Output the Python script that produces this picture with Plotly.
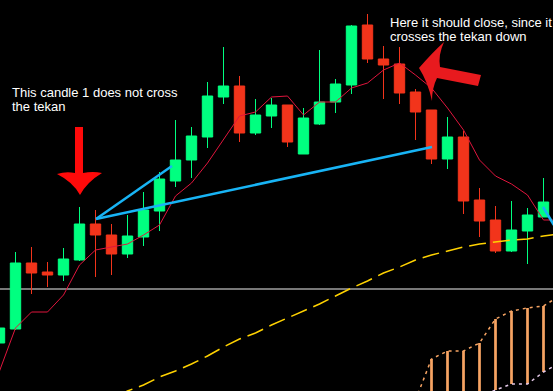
import plotly.graph_objects as go

W, H = 553, 391

# ---- data (price units, arbitrary scale) ----
idx = list(range(-1, 34))
opens = [48, 62, 128, 119, 116, 131, 167, 156, 137, 154, 180, 210, 231, 254, 294, 305, 258, 275, 286, 237,
         267, 289, 306, 366, 332, 327, 299, 281, 232, 254, 191, 171, 140, 160, 174]
highs = [66, 139, 144, 129, 143, 184, 181, 167, 176, 199, 219, 271, 264, 309, 344, 315, 292, 293, 286, 283,
         341, 312, 366, 377, 345, 344, 302, 281, 274, 260, 203, 185, 190, 183, 213]
lows = [44, 61, 97, 104, 110, 130, 114, 116, 133, 145, 160, 204, 213, 243, 287, 249, 256, 263, 244, 237,
        266, 278, 297, 328, 292, 287, 251, 227, 222, 177, 154, 138, 139, 127, 174]
closes = [63, 128, 118, 116, 132, 167, 156, 137, 155, 181, 212, 231, 255, 295, 305, 258, 276, 286, 249, 273,
          289, 307, 365, 332, 326, 298, 279, 232, 254, 190, 170, 140, 161, 176, 189]

tekan_x = list(range(-1, 35))
tekan = [20, 63, 79, 79, 96, 126, 141, 144, 147, 156, 166, 195, 208, 228, 251, 275, 279, 294, 295, 276,
         289, 289, 303, 308, 321, 328, 316, 303, 283, 261, 231, 215, 207, 196, 171, 171]

ma_x = list(range(5, 35))
ma = [-16, -8, 0, 6, 14, 20, 27, 35, 44, 52, 58, 66, 73, 80, 87, 95, 103, 110, 118, 124,
      131, 136, 140, 144, 147, 149, 151, 152, 155, 157]

cloud_x = [26, 27, 28, 29, 30, 31, 32, 33]
cloud_top = [32, 40, 40, 48, 72, 80, 83, 85]
cloud_bot = [-10, -10, -10, -10, 1, 7, 7, 19]

spanA_x = [25, 26, 27, 28, 29, 30, 31, 32, 33, 34]
spanA = [-9, 32, 40, 40, 48, 72, 80, 83, 85, 95]
spanB_x = [29, 30, 31, 32, 33, 34]
spanB = [-6, 1, 7, 7, 19, 28]

level = 102  # horizontal level

trend1_x = [5.03, 9.78]
trend1_y = [172, 225]
trend2_x = [5.03, 26.03]
trend2_y = [172, 244]
trend3_x = [32.97, 33.65]
trend3_y = [184, 166]

GREEN = "#00FF80"
RED = "#F2341B"

fig = go.Figure()

# cloud hatch
fig.add_trace(go.Bar(x=cloud_x, y=[t - b for t, b in zip(cloud_top, cloud_bot)], base=cloud_bot,
                     width=0.17, marker=dict(color="#F7A463", line=dict(width=0))))
fig.add_trace(go.Scatter(x=spanA_x, y=spanA, mode="lines",
                         line=dict(color="#F7A463", width=1.5, dash="3px,4px")))
fig.add_trace(go.Scatter(x=spanB_x, y=spanB, mode="lines",
                         line=dict(color="#E4C8E8", width=1.5, dash="3px,4px")))

# moving average (yellow dashed)
fig.add_trace(go.Scatter(x=ma_x, y=ma, mode="lines",
                         line=dict(color="#FFD200", width=1.5, dash="17px,7px")))

# tekan
fig.add_trace(go.Scatter(x=tekan_x, y=tekan, mode="lines",
                         line=dict(color="#E0153D", width=1)))

# candles
fig.add_trace(go.Candlestick(x=idx, open=opens, high=highs, low=lows, close=closes,
                             increasing=dict(line=dict(color=GREEN, width=1), fillcolor=GREEN),
                             decreasing=dict(line=dict(color=RED, width=1), fillcolor=RED),
                             whiskerwidth=0))

# trend lines
for tx, ty in [(trend1_x, trend1_y), (trend2_x, trend2_y), (trend3_x, trend3_y)]:
    fig.add_trace(go.Scatter(x=tx, y=ty, mode="lines", line=dict(color="#18B4F5", width=2.5)))


def P(px, py):
    return f"{px / W:.5f},{1 - py / H:.5f}"


arrow1 = (f"M {P(75,127)} L {P(83,127)} L {P(83,173)} Q {P(93,171)} {P(102,173)} "
          f"Q {P(87,182)} {P(80,195)} Q {P(73,182)} {P(57,174)} Q {P(66,171)} {P(75,173)} Z")
arrow2 = (f"M {P(419,68)} Q {P(432,53)} {P(444,42)} Q {P(438,55)} {P(440,67)} L {P(481,75)} "
          f"L {P(478,86)} L {P(437,78)} Q {P(432,88)} {P(432,101)} Q {P(428,82)} {P(419,68)} Z")

shapes = [
    dict(type="line", xref="paper", x0=0, x1=1, yref="y", y0=level, y1=level,
         line=dict(color="#A0A0A0", width=1.5), layer="below"),
    dict(type="path", xref="paper", yref="paper", path=arrow1, fillcolor="#FF0A0A", line=dict(width=0)),
    dict(type="path", xref="paper", yref="paper", path=arrow2, fillcolor="#E81A1E", line=dict(width=0)),
]

FONT = dict(family="Liberation Sans, Arial, sans-serif", size=13, color="#FFFFFF")
texts = [
    ("This candle 1 does not cross", 10, 92),
    ("the tekan", 10, 106),
    ("Here it should close, since it", 388, 22.5),
    ("crosses the tekan down", 388, 36.5),
]
annotations = [dict(text=t, xref="paper", yref="paper", x=px / W, y=1 - py / H,
                    xanchor="left", yanchor="middle", showarrow=False, font=FONT)
               for t, px, py in texts]

fig.update_layout(
    width=W, height=H, margin=dict(l=0, r=0, t=0, b=0),
    paper_bgcolor="#000000", plot_bgcolor="#000000",
    showlegend=False, boxgap=0.35, boxgroupgap=0, barmode="overlay",
    xaxis=dict(range=[-15.5 / 16, (W - 15.5) / 16], visible=False, rangeslider=dict(visible=False),
               fixedrange=True),
    yaxis=dict(range=[0, H], visible=False, fixedrange=True),
    shapes=shapes, annotations=annotations,
)

fig.write_html("out.html")
